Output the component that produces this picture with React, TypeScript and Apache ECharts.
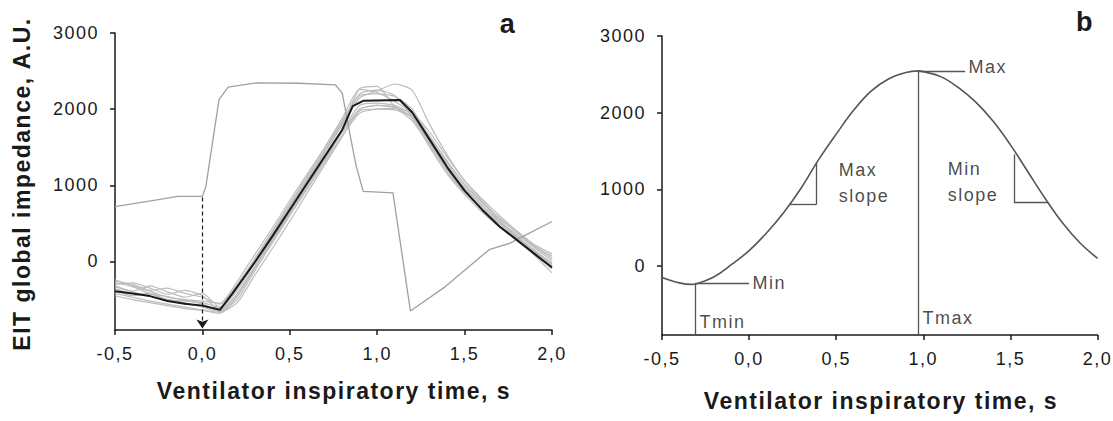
import React, { useEffect, useRef } from 'react';
import * as echarts from 'echarts';

// ---------- data ----------
const timeGrid = [-0.5, -0.4, -0.3, -0.2, -0.1, 0, 0.1, 0.2, 0.3, 0.4, 0.5, 0.6, 0.7, 0.8, 0.9, 1.0, 1.1, 1.2, 1.3, 1.4, 1.5, 1.6, 1.7, 1.8, 1.9, 2.0];

// individual breaths (panel a, grey)
const breath1 = [-260, -300, -380, -350, -420, -470, -560, -300, 40, 400, 760, 1120, 1480, 1850, 2200, 2250, 2180, 1900, 1550, 1200, 920, 700, 500, 320, 150, -30];
const breath2 = [-300, -280, -350, -430, -380, -450, -640, -420, -60, 300, 650, 1000, 1350, 1720, 2050, 2080, 2050, 1930, 1620, 1280, 980, 740, 530, 350, 180, 10];
const breath3 = [-330, -390, -320, -400, -470, -420, -600, -380, -20, 350, 700, 1060, 1430, 1800, 2270, 2300, 2030, 1850, 1520, 1180, 900, 690, 470, 290, 100, -100];
const breath4 = [-380, -450, -420, -500, -540, -600, -660, -500, -120, 240, 600, 950, 1300, 1650, 1950, 2000, 2010, 1950, 1650, 1320, 1010, 770, 570, 380, 200, 40];
const breath5 = [-420, -470, -520, -560, -600, -640, -680, -460, -80, 280, 640, 990, 1340, 1700, 2000, 2050, 2030, 1880, 1500, 1150, 880, 650, 450, 280, 120, -60];
const breath6 = [-450, -500, -540, -580, -620, -640, -670, -540, -180, 170, 530, 900, 1270, 1640, 1980, 2000, 1990, 1900, 1580, 1220, 930, 700, 500, 310, 130, -50];
const breath7 = [-240, -320, -390, -470, -500, -520, -550, -260, 90, 440, 800, 1150, 1500, 1880, 2260, 2220, 2100, 1950, 1700, 1370, 1060, 800, 560, 380, 200, 70];
const breath8 = [-280, -330, -420, -460, -510, -560, -640, -350, 10, 360, 720, 1080, 1440, 1800, 2150, 2240, 2330, 2250, 1800, 1400, 1060, 820, 600, 400, 220, 100];
const breath9 = [-360, -420, -430, -500, -560, -580, -650, -450, -90, 270, 620, 980, 1330, 1690, 2000, 2050, 2020, 1900, 1560, 1230, 960, 730, 520, 300, 80, -150];
const breath10 = [-320, -400, -460, -500, -520, -540, -600, -330, 20, 380, 730, 1090, 1450, 1830, 2180, 2200, 2170, 2000, 1620, 1300, 1020, 780, 540, 330, 140, -20];
const breaths = [breath1, breath2, breath3, breath4, breath5, breath6, breath7, breath8, breath9, breath10];

// artefact breath (panel a, grey) [time, value]
const artefactBreath = [
  [-0.5, 720], [-0.26, 810], [-0.14, 855], [0.0, 855], [0.02, 985], [0.095, 2125], [0.147, 2290],
  [0.31, 2345], [0.55, 2340], [0.76, 2320], [0.8, 2210], [0.85, 1600], [0.88, 1250], [0.92, 920],
  [1.09, 900], [1.19, -650], [1.39, -330], [1.64, 155], [1.76, 240], [2.0, 525],
];

// ensemble average (panel a, black) [time, value]
const meanBreath = [
  [-0.5, -390], [-0.4, -420], [-0.3, -455], [-0.2, -520], [-0.1, -555], [0, -580], [0.1, -635],
  [0.17, -425], [0.3, -10], [0.4, 330], [0.5, 680], [0.6, 1030], [0.7, 1380], [0.8, 1730],
  [0.86, 2040], [0.92, 2110], [1.13, 2120], [1.2, 1960], [1.3, 1600], [1.4, 1240], [1.5, 930],
  [1.6, 680], [1.7, 460], [1.8, 280], [1.9, 100], [2.0, -80],
];

// ventilator trigger (dashed arrow) [time, value]
const triggerArrow = [[0, 840], [0, -880]];

// model breath (panel b) [time, value]
const modelBreath = [
  [-0.5, -150], [-0.4, -220], [-0.33, -240], [-0.3, -230], [-0.2, -140], [-0.1, 20], [0, 200],
  [0.1, 430], [0.2, 700], [0.3, 1020], [0.4, 1390], [0.5, 1720], [0.6, 2030], [0.7, 2280],
  [0.8, 2440], [0.9, 2525], [0.97, 2545], [1.0, 2535], [1.1, 2470], [1.2, 2330], [1.3, 2140],
  [1.4, 1890], [1.5, 1580], [1.6, 1230], [1.7, 880], [1.8, 560], [1.9, 300], [2.0, 100],
];

// parameter guides (panel b) [[t0, v0], [t1, v1]]
const guideSegments = [
  [[-0.31, -900], [-0.31, -225]],   // Tmin
  [[-0.31, -225], [0.0, -225]],     // Min
  [[0.23, 804], [0.387, 804]],      // Max slope horizontal
  [[0.387, 804], [0.387, 1348]],    // Max slope vertical
  [[0.97, -900], [0.97, 2545]],     // Tmax
  [[0.97, 2545], [1.24, 2545]],     // Max
  [[1.52, 1455], [1.52, 835]],      // Min slope vertical
  [[1.52, 835], [1.715, 835]],      // Min slope horizontal
];

const guideLabels = [
  { text: 'Min', at: [0.02, -225] },
  { text: 'Max', at: [1.26, 2590] },
  { text: 'Tmin', at: [-0.285, -730] },
  { text: 'Tmax', at: [0.995, -675] },
  { text: 'Max', at: [0.515, 1250] },
  { text: 'slope', at: [0.515, 915] },
  { text: 'Min', at: [1.14, 1260] },
  { text: 'slope', at: [1.14, 930] },
];

const xMin = -0.5;
const xMax = 2.0;
const xStep = 0.5;
const yMin = -900;
const yMax = 3000;
const yTickValues = [0, 1000, 2000, 3000];

const xTitle = 'Ventilator inspiratory time, s';
const yTitle = 'EIT global impedance, A.U.';

// ---------- chart ----------
const FONT = '"Liberation Sans", Arial, sans-serif';
const AXIS_COLOR = '#1a1a1a';
const TEXT_COLOR = '#1a1a1a';

function makeXAxis(gridIndex: number) {
  return {
    type: 'value',
    gridIndex,
    min: xMin,
    max: xMax,
    interval: xStep,
    axisLine: { show: true, onZero: false, lineStyle: { color: AXIS_COLOR, width: 1.5 } },
    axisTick: { show: true, inside: false, length: 5, lineStyle: { color: AXIS_COLOR, width: 1.5 } },
    axisLabel: {
      margin: 15,
      fontFamily: FONT,
      fontSize: 18,
      color: TEXT_COLOR,
      formatter: (v: number) => v.toFixed(1).replace('.', ','),
    },
    splitLine: { show: false },
  };
}

function makeYAxis(gridIndex: number) {
  return {
    type: 'value',
    gridIndex,
    min: yMin,
    max: yMax,
    axisLine: { show: true, onZero: false, lineStyle: { color: AXIS_COLOR, width: 1.5 } },
    axisTick: { show: true, inside: false, length: 5, customValues: yTickValues, lineStyle: { color: AXIS_COLOR, width: 1.5 } },
    axisLabel: {
      margin: 16,
      fontFamily: FONT,
      fontSize: 18,
      color: TEXT_COLOR,
      customValues: yTickValues,
      formatter: (v: number) => String(Math.round(v)),
    },
    splitLine: { show: false },
  };
}

export default function App() {
  const ref = useRef<HTMLDivElement>(null);

  useEffect(() => {
    if (!ref.current) return;
    const chart = echarts.init(ref.current, undefined, { renderer: 'svg' });

    const greySeries = breaths.map((vals, i) => ({
      type: 'line',
      name: 'breath ' + (i + 1),
      xAxisIndex: 0,
      yAxisIndex: 0,
      data: vals.map((v, k) => [timeGrid[k], v]),
      symbol: 'none',
      smooth: 0.2,
      lineStyle: { color: '#bdbdbd', width: 1.2 },
      z: 2,
    }));

    const option = {
      animation: false,
      grid: [
        { left: 115, right: 1113 - 552, top: 33, bottom: 421 - 330 },
        { left: 662, right: 1113 - 1098, top: 36, bottom: 421 - 335 },
      ],
      xAxis: [makeXAxis(0), makeXAxis(1)],
      yAxis: [makeYAxis(0), makeYAxis(1)],
      series: [
        ...greySeries,
        {
          type: 'line',
          name: 'artefact',
          xAxisIndex: 0,
          yAxisIndex: 0,
          data: artefactBreath,
          symbol: 'none',
          lineStyle: { color: '#a0a0a0', width: 1.3 },
          z: 3,
        },
        {
          type: 'line',
          name: 'mean',
          xAxisIndex: 0,
          yAxisIndex: 0,
          data: meanBreath,
          symbol: 'none',
          lineStyle: { color: '#1a1a1a', width: 2 },
          z: 5,
          markLine: {
            silent: true,
            symbol: ['none', 'arrow'],
            symbolSize: 9,
            label: { show: false },
            lineStyle: { color: '#1a1a1a', width: 1.2, type: [4, 3] },
            data: [[{ coord: triggerArrow[0] }, { coord: triggerArrow[1] }]],
          },
        },
        {
          type: 'line',
          name: 'model',
          xAxisIndex: 1,
          yAxisIndex: 1,
          data: modelBreath,
          symbol: 'none',
          smooth: 0.4,
          lineStyle: { color: '#555555', width: 1.6 },
          z: 4,
          markLine: {
            silent: true,
            symbol: 'none',
            label: { show: false },
            lineStyle: { color: '#555555', width: 1.3, type: 'solid' },
            data: guideSegments.map((s) => [{ coord: s[0] }, { coord: s[1] }]),
          },
        },
        {
          type: 'scatter',
          name: 'labels',
          xAxisIndex: 1,
          yAxisIndex: 1,
          symbolSize: 0,
          data: guideLabels.map((g) => ({ value: g.at, name: g.text })),
          label: {
            show: true,
            position: [0, 0],
            align: 'left',
            verticalAlign: 'middle',
            formatter: '{b}',
            fontFamily: FONT,
            fontSize: 18,
            color: TEXT_COLOR,
          },
          z: 6,
        },
      ],
      graphic: [
        {
          type: 'text',
          x: 22,
          y: 184,
          rotation: Math.PI / 2,
          style: {
            text: yTitle,
            font: 'bold 23px ' + FONT,
            fill: TEXT_COLOR,
            align: 'center',
            verticalAlign: 'middle',
          },
        },
        {
          type: 'text',
          x: 334,
          y: 391,
          style: { text: xTitle, font: 'bold 23px ' + FONT, fill: TEXT_COLOR, align: 'center', verticalAlign: 'middle' },
        },
        {
          type: 'text',
          x: 881,
          y: 401,
          style: { text: xTitle, font: 'bold 23px ' + FONT, fill: TEXT_COLOR, align: 'center', verticalAlign: 'middle' },
        },
        {
          type: 'text',
          x: 508,
          y: 24,
          style: { text: 'a', font: 'bold 27px ' + FONT, fill: TEXT_COLOR, align: 'center', verticalAlign: 'middle' },
        },
        {
          type: 'text',
          x: 1085,
          y: 22,
          style: { text: 'b', font: 'bold 27px ' + FONT, fill: TEXT_COLOR, align: 'center', verticalAlign: 'middle' },
        },
      ],
    };

    chart.setOption(option as any);
    return () => chart.dispose();
  }, []);

  return (
    <>
      <style>{`.eit-chart text { letter-spacing: 1.5px; }`}</style>
      <div
        ref={ref}
        className="eit-chart"
        style={{ position: 'absolute', left: 0, top: 0, width: 1113, height: 421, background: '#fff' }}
      />
    </>
  );
}
